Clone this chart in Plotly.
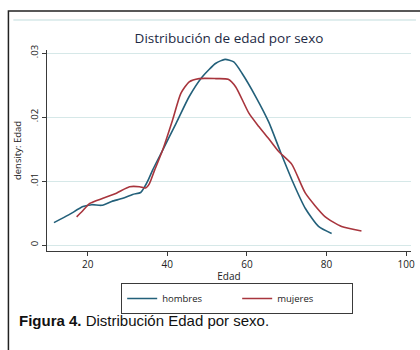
import plotly.graph_objects as go

# ---- data ----
hombres_edad = [11.5, 15.2, 18.8, 21.0, 23.5, 26.0, 28.8, 31.3, 33.3, 34.3, 35.3, 36.3,
                38.8, 42.2, 45.5, 48.8, 52.2, 54.5, 56.7, 58.8, 62.2, 65.5, 68.4, 71.3,
                74.7, 78.0, 81.3]
hombres_dens = [0.0035, 0.0047, 0.0060, 0.0063, 0.0062, 0.0068, 0.0073, 0.0079, 0.0082,
                0.0091, 0.0103, 0.0117, 0.0148, 0.0190, 0.0232, 0.0263, 0.0284, 0.0290,
                0.0286, 0.0268, 0.0232, 0.0192, 0.0146, 0.0102, 0.0057, 0.0029, 0.0018]

mujeres_edad = [17.2, 18.5, 20.5, 23.8, 27.2, 30.5, 33.0, 34.5, 35.5, 36.8, 38.8, 41.3,
                43.4, 45.5, 48.0, 52.2, 55.3, 57.2, 60.5, 63.0, 65.5, 68.0, 71.3, 74.7,
                79.7, 83.8, 88.8]
mujeres_dens = [0.0044, 0.0052, 0.0065, 0.0073, 0.0081, 0.0091, 0.0091, 0.0089, 0.0096,
                0.0117, 0.0148, 0.0195, 0.0237, 0.0255, 0.0260, 0.0260, 0.0259, 0.0247,
                0.0206, 0.0185, 0.0166, 0.0146, 0.0126, 0.0081, 0.0044, 0.0029, 0.0022]

x_ticks = [20, 40, 60, 80, 100]
y_ticks = [0, 0.01, 0.02, 0.03]
y_ticklabels = ["0", ".01", ".02", ".03"]

# ---- layout geometry ----
W, H = 420, 350
L, R, T, B = 47, 5, 50, 99
PW, PH = W - L - R, H - T - B


def xp(px):
    return (px - L) / PW


def yp(py):
    return (H - B - py) / PH


BLUE = "#23607a"
RED = "#a8353d"
GRID = "#d6e8e8"
AX = "#3a3a3a"
FONT = "Open Sans"

fig = go.Figure()
fig.add_trace(go.Scatter(x=hombres_edad, y=hombres_dens, mode="lines", name="hombres",
                         line=dict(color=BLUE, width=1.6, shape="spline", smoothing=0.6)))
fig.add_trace(go.Scatter(x=mujeres_edad, y=mujeres_dens, mode="lines", name="mujeres",
                         line=dict(color=RED, width=1.6, shape="spline", smoothing=0.6)))

fig.update_layout(
    width=W, height=H,
    margin=dict(l=L, r=R, t=T, b=B, pad=0),
    paper_bgcolor="white", plot_bgcolor="white",
    font=dict(family=FONT, size=10, color="#222"),
    title=dict(text="Distribución de edad por sexo", xref="container", yref="container",
               x=229 / W, y=1 - 38 / H, xanchor="center", yanchor="middle",
               font=dict(family=FONT, size=13.5, color="#1d2a44")),
    showlegend=True,
    legend=dict(orientation="h", x=xp(122), y=yp(283), xanchor="left", yanchor="top",
                bgcolor="white", bordercolor=AX, borderwidth=1,
                font=dict(family=FONT, size=9.5, color="#222"),
                entrywidth=70, entrywidthmode="pixels", tracegroupgap=0),
)

fig.update_xaxes(range=[9.75, 101.25], tickvals=x_ticks, showgrid=False, zeroline=False,
                 showline=True, linecolor=AX, linewidth=1.2, ticks="outside", ticklen=4,
                 tickcolor=AX, tickfont=dict(size=10, color="#222"),
                 title=dict(text="Edad", standoff=2, font=dict(size=10, color="#222")))
fig.update_yaxes(range=[-0.0009375, 0.0304688], tickvals=y_ticks, ticktext=y_ticklabels,
                 tickangle=-90, showgrid=True, gridcolor=GRID, gridwidth=1, zeroline=False,
                 showline=True, linecolor=AX, linewidth=1.2, ticks="outside", ticklen=4,
                 tickcolor=AX, tickfont=dict(size=9.5, color="#222"),
                 title=dict(text="density: Edad", standoff=4, font=dict(size=9.5, color="#222")))

# outer frame of the figure and light graph-region line
fig.add_shape(type="rect", xref="paper", yref="paper",
              x0=xp(8), x1=xp(440), y0=yp(370), y1=yp(11),
              line=dict(color="#222", width=1.5), layer="below")
fig.add_shape(type="line", xref="paper", yref="paper",
              x0=xp(13), x1=xp(420), y0=yp(20), y1=yp(20),
              line=dict(color=GRID, width=1.5), layer="below")

# caption
fig.add_annotation(text="<b>Figura 4.</b> Distribución Edad por sexo.",
                   xref="paper", yref="paper", x=xp(17), y=yp(320),
                   xanchor="left", yanchor="middle", showarrow=False,
                   font=dict(family="Liberation Sans", size=15, color="#111"))

fig.write_html("out.html", config={"displayModeBar": False},
               post_script="document.body.style.margin='0px';document.body.style.overflow='hidden';")
